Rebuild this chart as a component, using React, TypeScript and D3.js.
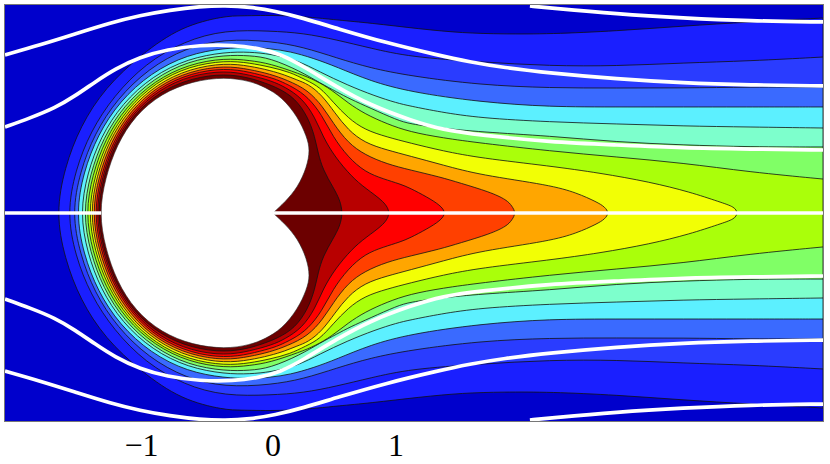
import React from 'react';
import * as d3 from 'd3';

type Pt = [number, number];

// upper half only, the flow is symmetric about the axis
const level1: Pt[] = [[4.472,1.585],[3.878,1.553],[3.333,1.520],[2.797,1.480],[2.252,1.455],[1.870,1.455],[1.545,1.463],[1.195,1.496],[0.789,1.545],[0.520,1.569],[0.382,1.585],[0.057,1.610],[-0.268,1.602],[-.390,1.602],[-.745,1.519],[-1.074,1.288],[-1.365,1.019],[-1.567,.706],[-1.695,.367],[-1.764,0]];
const level2: Pt[] = [[4.472,1.268],[3.878,1.236],[3.333,1.220],[2.797,1.195],[2.252,1.195],[1.683,1.228],[1.114,1.268],[0.789,1.341],[0.520,1.407],[0.244,1.463],[-0.024,1.480],[-.390,1.488],[-.721,1.399],[-1.036,1.216],[-1.294,.953],[-1.484,.663],[-1.608,.345],[-1.674,0]];
const level3: Pt[] = [[4.472,1.024],[3.878,1.024],[3.333,1.016],[2.797,1.016],[2.252,1.016],[1.683,1.041],[1.114,1.114],[0.789,1.179],[0.520,1.260],[0.244,1.350],[-0.024,1.398],[-.390,1.415],[-.709,1.343],[-1.013,1.174],[-1.267,.928],[-1.451,.646],[-1.569,.336],[-1.634,0]];
const level4: Pt[] = [[4.472,.862],[3.878,.862],[2.797,.862],[2.252,.862],[1.683,.902],[1.114,.984],[.789,1.073],[.520,1.187],[.325,1.260],[.138,1.313],[-.024,1.337],[-.187,1.346],[-.390,1.342],[-.698,1.289],[-.994,1.138],[-1.247,.909],[-1.426,.634],[-1.542,.329],[-1.601,0]];
const level5: Pt[] = [[4.472,.691],[3.878,.699],[3.333,.707],[2.797,.724],[2.252,.740],[1.683,.772],[1.358,.821],[1.114,.870],[1.008,.894],[.829,.951],[.602,1.041],[.382,1.146],[.195,1.244],[-.024,1.293],[-.187,1.309],[-.390,1.309],[-.691,1.256],[-.981,1.113],[-1.226,.890],[-1.401,.620],[-1.511,.321],[-1.568,0]];
const level6: Pt[] = [[4.472,.537],[3.878,.537],[3.333,.553],[2.797,.577],[2.252,.626],[1.683,.659],[1.358,.691],[1.114,.724],[1.008,.756],[.789,.854],[.626,.927],[.520,.984],[.382,1.057],[.220,1.154],[-.024,1.260],[-.187,1.280],[-.390,1.285],[-.687,1.237],[-.971,1.094],[-1.211,.876],[-1.381,.610],[-1.488,.316],[-1.544,0]];
const level7: Pt[] = [[4.472,.276],[3.878,.333],[3.333,.407],[2.797,.455],[2.252,.504],[1.683,.569],[1.382,.610],[1.114,.659],[.927,.724],[.748,.805],[.610,.894],[.480,1.000],[.341,1.081],[.220,1.130],[-.024,1.215],[-.187,1.240],[-.390,1.260],[-.682,1.212],[-.961,1.077],[-1.197,.863],[-1.364,.601],[-1.469,.311],[-1.524,0]];
const level8: Pt[] = [[3.778,0],[3.756,.049],[3.634,.089],[3.390,.171],[3.065,.252],[2.659,.325],[2.252,.382],[1.683,.447],[1.382,.504],[1.114,.569],[.927,.618],[.748,.675],[.610,.772],[.488,.902],[.382,1.024],[.268,1.081],[.138,1.146],[-.024,1.187],[-.187,1.220],[-.390,1.240],[-.679,1.195],[-.954,1.063],[-1.184,.851],[-1.347,.593],[-1.450,.306],[-1.503,0]];
const level9: Pt[] = [[2.732,0],[2.699,.049],[2.634,.089],[2.472,.163],[2.252,.228],[1.683,.309],[1.382,.390],[1.114,.463],[.927,.512],[.748,.569],[.610,.675],[.504,.813],[.398,.959],[.285,1.049],[.195,1.081],[.098,1.122],[-.024,1.159],[-.187,1.195],[-.390,1.220],[-.675,1.175],[-.946,1.048],[-1.173,.841],[-1.334,.586],[-1.434,.302],[-1.487,0]];
const level10: Pt[] = [[1.975,0],[1.943,.057],[1.902,.106],[1.764,.171],[1.520,.244],[1.358,.293],[1.114,.350],[.927,.398],[.748,.472],[.610,.569],[.488,.732],[.407,.862],[.285,1.000],[.114,1.081],[-.024,1.130],[-.187,1.167],[-.390,1.199],[-.671,1.156],[-.938,1.034],[-1.161,.830],[-1.319,.578],[-1.418,.298],[-1.471,0]];
const level11: Pt[] = [[1.410,0],[1.358,.065],[1.252,.130],[1.114,.203],[1.033,.236],[.900,.276],[.748,.333],[.610,.455],[.488,.618],[.398,.797],[.285,.943],[.163,1.024],[.041,1.081],[-.024,1.102],[-.187,1.146],[-.390,1.179],[-.667,1.139],[-.931,1.020],[-1.150,.820],[-1.306,.571],[-1.403,.295],[-1.455,0]];
const level12: Pt[] = [[.955,0],[.911,.089],[.748,.203],[.642,.293],[.504,.455],[.407,.618],[.341,.780],[.236,.935],[.098,1.024],[-.008,1.073],[-.187,1.122],[-.390,1.159],[-.664,1.121],[-.924,1.007],[-1.142,.811],[-1.295,.565],[-1.391,.292],[-1.442,0]];
const level13: Pt[] = [[.567,0],[.545,.106],[.488,.211],[.407,.350],[.366,.488],[.341,.618],[.285,.780],[.179,.935],[.041,1.016],[-.065,1.057],[-.187,1.098],[-.390,1.134],[-.659,1.098],[-.916,.991],[-1.133,.803],[-1.284,.560],[-1.380,.289],[-1.430,0]];

const body: Pt[] = [[0,0],[.098,.089],[.203,.211],[.276,.374],[.301,.512],[.276,.618],[.203,.780],[.073,.943],[-.065,1.024],[-.187,1.073],[-.390,1.106],[-.654,1.073],[-.906,.973],[-1.122,.793],[-1.271,.553],[-1.364,.285],[-1.414,0]];

// white streamlines
const stream1: Pt[] = [[-2.179,1.285],[-1.894,1.366],[-1.610,1.455],[-1.325,1.545],[-1.081,1.606],[-.837,1.650],[-.593,1.679],[-.390,1.687],[-.187,1.675],[.016,1.642],[.244,1.585],[.520,1.500],[.927,1.382],[1.333,1.285],[1.602,1.228],[1.870,1.183],[2.252,1.138],[2.797,1.089],[3.333,1.057],[3.878,1.041],[4.472,1.033]];
const stream2: Pt[] = [[-2.179,.699],[-1.976,.772],[-1.772,.854],[-1.610,.951],[-1.447,1.065],[-1.285,1.171],[-1.081,1.268],[-.862,1.329],[-.593,1.366],[-.325,1.366],[-.106,1.337],[.057,1.293],[.244,1.195],[.520,1.024],[.789,.878],[1.114,.756],[1.382,.675],[1.683,.634],[2.252,.577],[2.797,.553],[3.333,.528],[3.878,.520],[4.472,.512]];
const stream3: Pt[] = [[2.089,1.683],[2.252,1.667],[2.797,1.618],[3.333,1.585],[3.878,1.561],[4.472,1.553]];
const axisLeft: Pt[] = [[-2.179,0],[-1.398,0]];
const axisRight: Pt[] = [[0,0],[4.472,0]];

const levels = [level1, level2, level3, level4, level5, level6, level7, level8, level9, level10, level11, level12, level13];
const levelColors = ['#1a1fff', '#2a3cff', '#3a6aff', '#5cf0ff', '#7dffcc', '#80ff66', '#aaff0a', '#f2ff05', '#ffa600', '#ff4000', '#ff0000', '#b80000', '#6c0000'];
const ticks = [-1, 0, 1];

const x = d3.scaleLinear().domain([-2.179, 4.472]).range([5, 823]);
const y = d3.scaleLinear().domain([-1.691, 1.691]).range([421, 5]);

const mirror = (pts: Pt[]): Pt[] => pts.map(([a, b]) => [a, -b] as Pt).reverse();

const openLine = d3.line<Pt>().x(d => x(d[0])).y(d => y(d[1])).curve(d3.curveBasis);
const closedLine = d3.line<Pt>().x(d => x(d[0])).y(d => y(d[1])).curve(d3.curveBasisClosed);
const straight = d3.line<Pt>().x(d => x(d[0])).y(d => y(d[1]));

// whole contour from its upper half
function contourPath(pts: Pt[]) {
  const low = mirror(pts).slice(1);
  if (pts[0][1] === 0) return closedLine([...pts, ...low.slice(0, -1)]) as string;
  return (openLine([...pts, ...low]) as string) + 'Z';
}

export default function App() {
  return (
    <svg width={830} height={464} style={{ position: 'absolute', left: 0, top: 0, background: '#fff' }}>
      <defs>
        <clipPath id="plot">
          <rect x={5} y={5} width={818} height={416} />
        </clipPath>
      </defs>
      <g clipPath="url(#plot)">
        <rect x={5} y={5} width={818} height={416} fill="#0000cc" />
        {levels.map((pts, i) => (
          <path key={i} d={contourPath(pts)} fill={levelColors[i]} stroke="#111" strokeWidth={0.8} />
        ))}
        <path d={(openLine([...body, ...mirror(body).slice(1)]) as string) + 'Z'} fill="#fff" stroke="#222" strokeWidth={0.6} />
        {[stream1, stream2, stream3].map((pts, i) => (
          <g key={i}>
            <path d={openLine(pts) as string} fill="none" stroke="#fff" strokeWidth={3.7} />
            <path d={openLine(mirror(pts)) as string} fill="none" stroke="#fff" strokeWidth={3.7} />
          </g>
        ))}
        <path d={straight(axisLeft) as string} fill="none" stroke="#fff" strokeWidth={3.7} />
        <path d={straight(axisRight) as string} fill="none" stroke="#fff" strokeWidth={3.7} />
      </g>
      <rect x={4.5} y={4.5} width={819} height={417} fill="none" stroke="#777" strokeWidth={1} />
      {ticks.map(t => (
        <text
          key={t}
          x={x(t) + (t < 0 ? -8.5 : 0)}
          y={456}
          textAnchor="middle"
          fontFamily="'Liberation Serif', serif"
          fontSize={32}
          fill="#000"
        >
          {t < 0 ? `\u2212${-t}` : t}
        </text>
      ))}
    </svg>
  );
}
